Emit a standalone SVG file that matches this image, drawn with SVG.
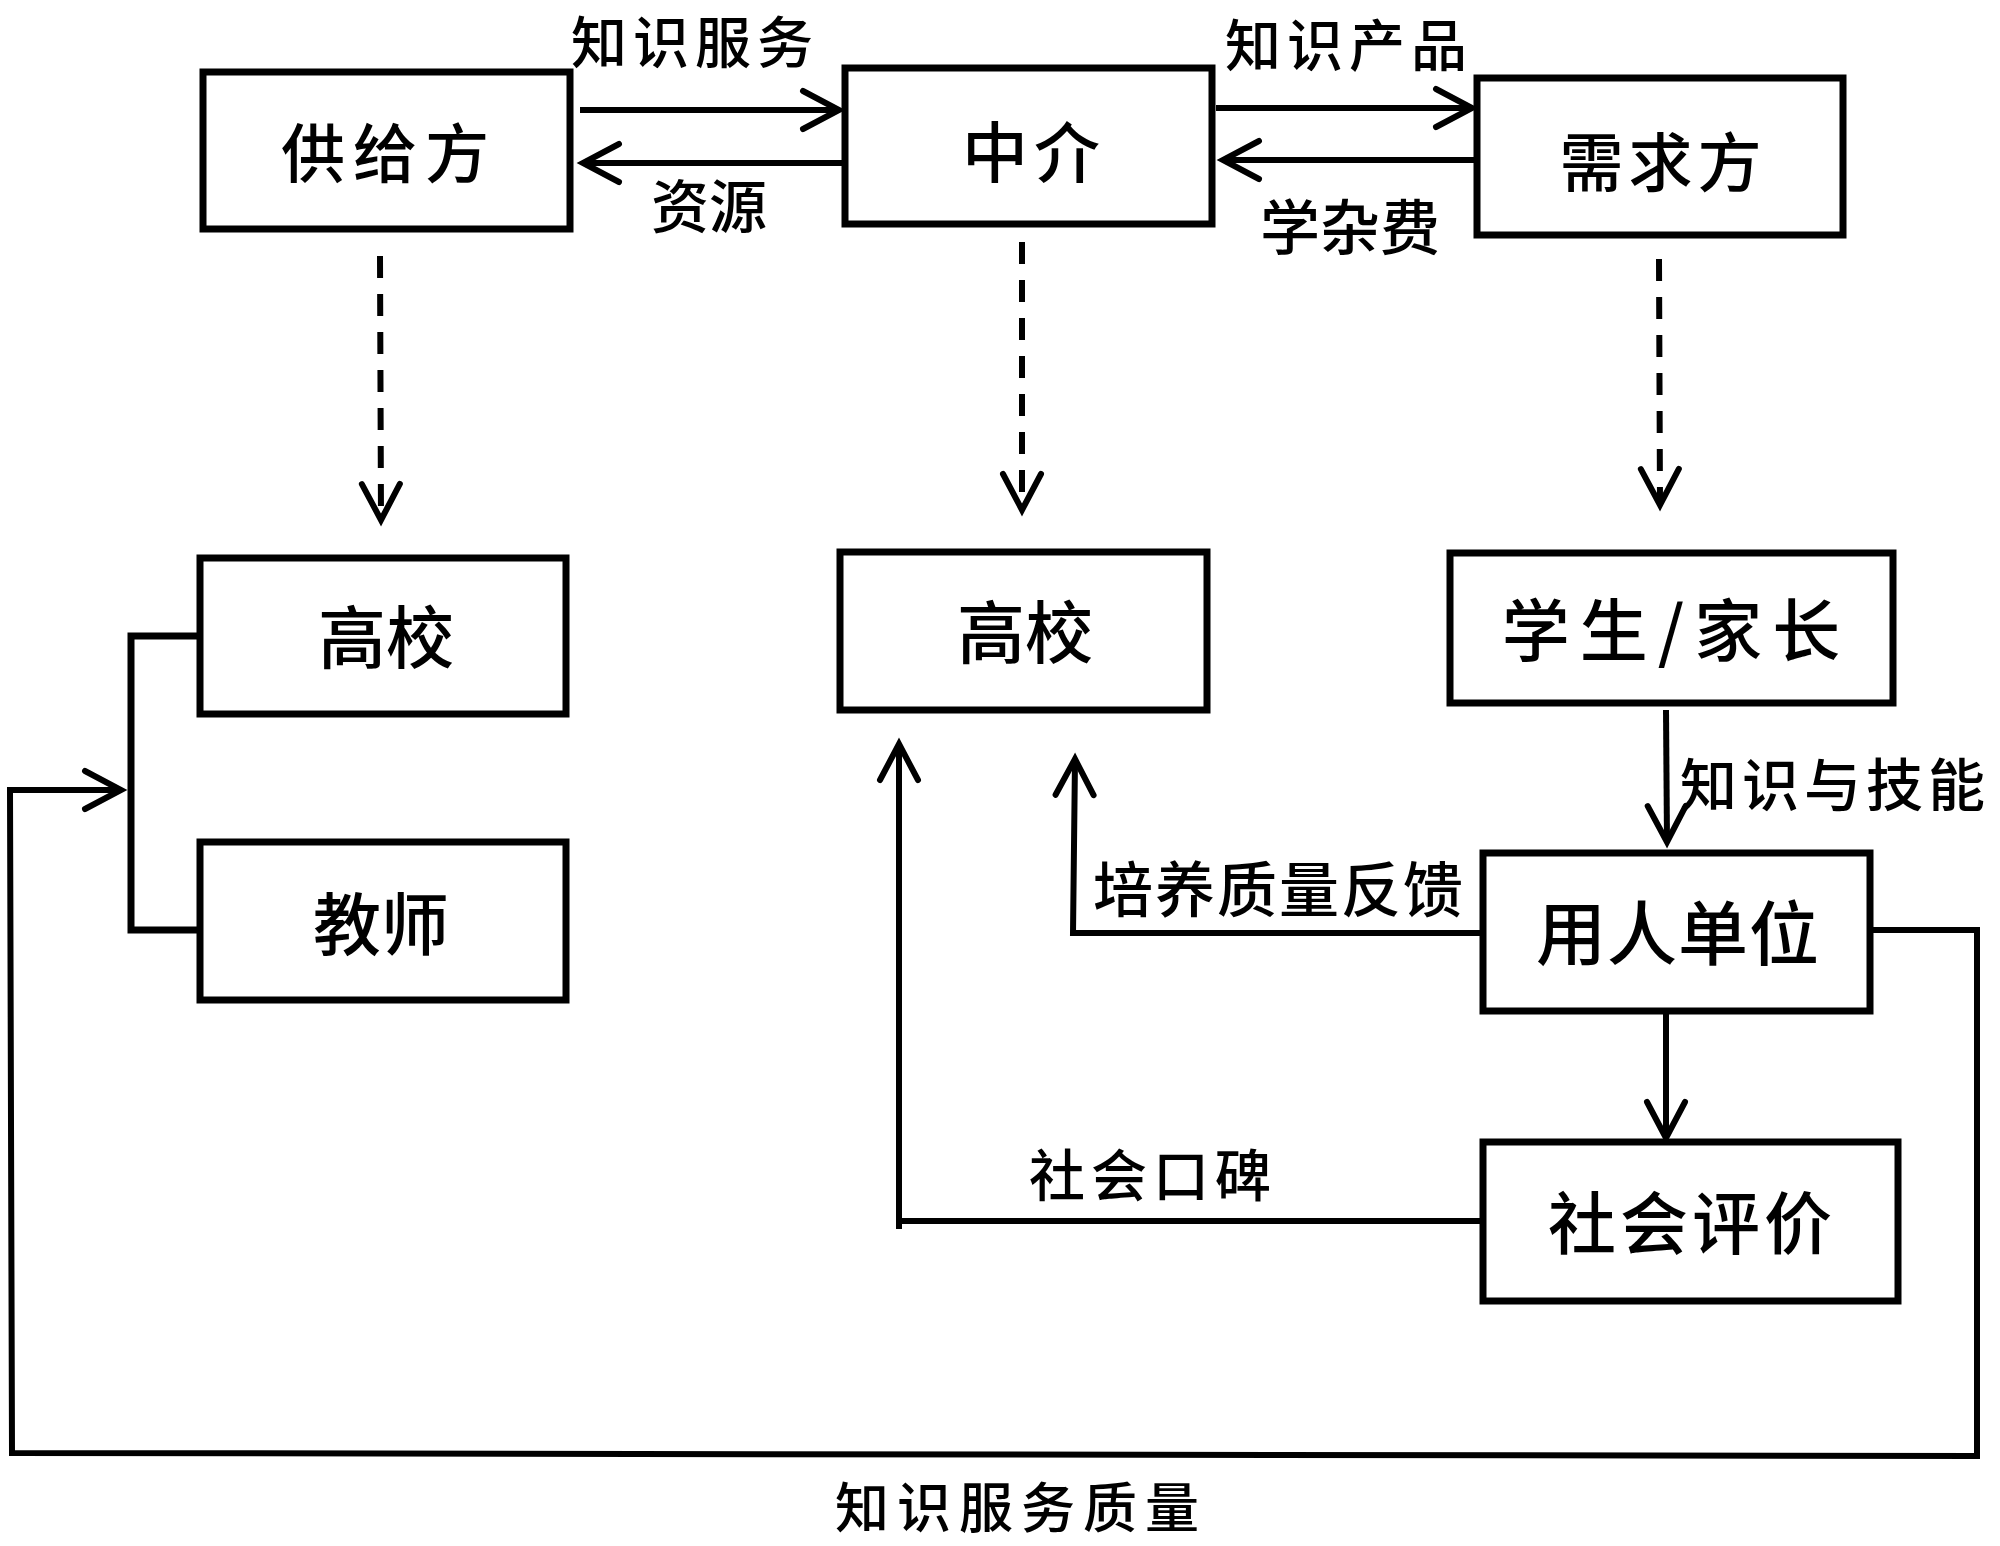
<svg xmlns="http://www.w3.org/2000/svg" width="2000" height="1546" viewBox="0 0 2000 1546">
<style>
.box{fill:#fff;stroke:#000;stroke-width:7}
.t{font-family:"Noto Sans CJK SC","Noto Sans CJK TC",sans-serif;font-weight:500;fill:#000;text-anchor:middle}
.c{fill:none;stroke:#000;stroke-width:6;stroke-linejoin:miter}
.d{stroke-dasharray:22 16}
</style>
<defs>
<marker id="ah" viewBox="0 0 44 44" markerWidth="44" markerHeight="44" refX="40" refY="22" orient="auto" markerUnits="userSpaceOnUse" overflow="visible">
<path d="M4,3 L40,22 L4,41" fill="none" stroke="#000" stroke-width="6" stroke-dasharray="none" stroke-linecap="round"/>
</marker>
</defs>
<rect width="2000" height="1546" fill="#fff"/>
<g id="connectors">
<path class="c" d="M580,110 L839,110" marker-end="url(#ah)"/>
<path class="c" d="M843,163 L583,163" marker-end="url(#ah)"/>
<path class="c" d="M1216,108 L1472,108" marker-end="url(#ah)"/>
<path class="c" d="M1478,160 L1223,160" marker-end="url(#ah)"/>
<path class="c d" d="M380,256 L381,520" marker-end="url(#ah)"/>
<path class="c d" d="M1022,242 L1022,510" marker-end="url(#ah)"/>
<path class="c d" d="M1659,259 L1660,505" marker-end="url(#ah)"/>
<path class="c" style="stroke-width:7" d="M200,636 L131,636 L131,930 L200,930"/>
<path class="c" d="M1870,930 L1977,930 L1977,1456 L12,1453 L10,790 L121,790" marker-end="url(#ah)"/>
<path class="c" d="M1481,933 L1073,933 L1075,759" marker-end="url(#ah)"/>
<path class="c" d="M1481,1221 L899,1221 L899,1229 M899,1229 L899,744" marker-end="url(#ah)"/>
<path class="c" d="M1666,710 L1667,842" marker-end="url(#ah)"/>
<path class="c" d="M1666,1011 L1666,1138" marker-end="url(#ah)"/>
</g>
<g id="labels">
<text class="t" x="695" y="63" font-size="56" letter-spacing="6">知识服务</text>
<text class="t" x="709" y="228" font-size="58">资源</text>
<text class="t" x="1349" y="66" font-size="56" letter-spacing="6">知识产品</text>
<text class="t" x="1350" y="250" font-size="60">学杂费</text>
<text class="t" x="1680" y="806" font-size="57" letter-spacing="5" style="text-anchor:start">知识与技能</text>
<text class="t" x="1279" y="912" font-size="60" letter-spacing="2">培养质量反馈</text>
<text class="t" x="1153" y="1196" font-size="56" letter-spacing="6">社会口碑</text>
<text class="t" x="1021" y="1528" font-size="54" letter-spacing="8">知识服务质量</text>
</g>
<g id="supply">
<rect class="box" x="203" y="72" width="367" height="157"/>
<text class="t" x="389" y="177" font-size="64" letter-spacing="8">供给方</text>
</g>
<g id="agent">
<rect class="box" x="845" y="68" width="367" height="156"/>
<text class="t" x="1034" y="177" font-size="66" letter-spacing="6">中介</text>
</g>
<g id="demand">
<rect class="box" x="1477" y="78" width="366" height="157"/>
<text class="t" x="1663" y="186" font-size="64" letter-spacing="5">需求方</text>
</g>
<g id="college-left">
<rect class="box" x="200" y="558" width="366" height="156"/>
<text class="t" x="386" y="663" font-size="68">高校</text>
</g>
<g id="teacher">
<rect class="box" x="200" y="842" width="366" height="158"/>
<text class="t" x="381" y="950" font-size="68">教师</text>
</g>
<g id="college-mid">
<rect class="box" x="840" y="552" width="367" height="158"/>
<text class="t" x="1025" y="658" font-size="68">高校</text>
</g>
<g id="student">
<rect class="box" x="1450" y="553" width="443" height="150"/>
<text class="t" x="1676" y="656" font-size="68" letter-spacing="10">学生/家长</text>
</g>
<g id="employer">
<rect class="box" x="1483" y="853" width="387" height="158"/>
<text class="t" x="1678" y="960" font-size="70" letter-spacing="1">用人单位</text>
</g>
<g id="social">
<rect class="box" x="1483" y="1142" width="415" height="159"/>
<text class="t" x="1692" y="1249" font-size="68" letter-spacing="4">社会评价</text>
</g>
</svg>
